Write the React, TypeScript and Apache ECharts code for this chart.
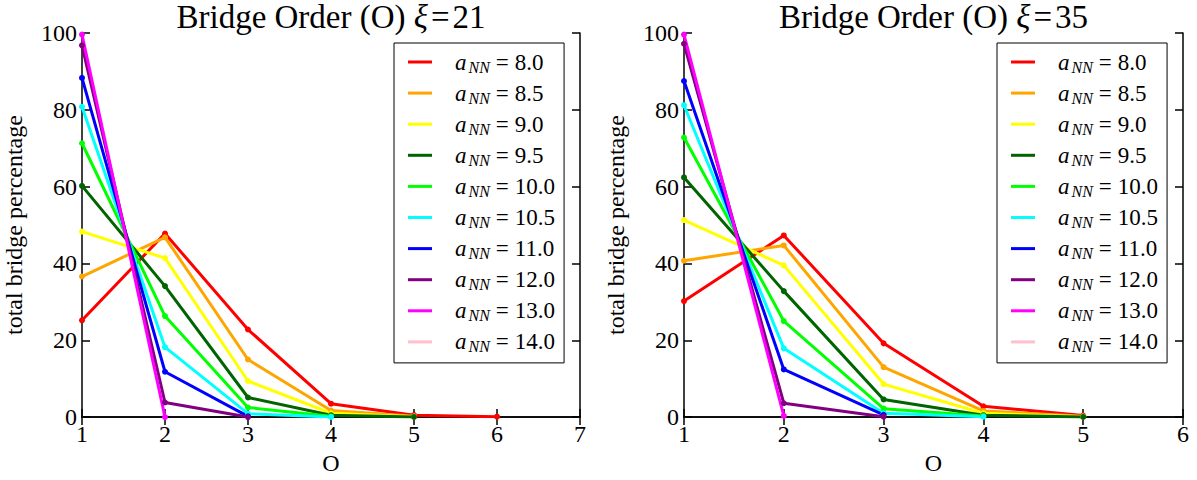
import React, { useEffect, useRef } from "react";
import * as echarts from "echarts";

// Legend labels (a_NN values) and colours
const aNN = ["8.0", "8.5", "9.0", "9.5", "10.0", "10.5", "11.0", "12.0", "13.0", "14.0"];
const colors = ["#ff0000", "#ffa500", "#ffff00", "#006400", "#00ff00", "#00ffff", "#0000ff", "#800080", "#ff00ff", "#ffc0cb"];

// Bridge order O = 1, 2, 3, ... ; values = total bridge percentage
// xi = 21
const xi21_8_0 = [25.2, 47.8, 22.8, 3.5, 0.5, 0.1];
const xi21_8_5 = [36.6, 46.8, 15.0, 1.7, 0.2];
const xi21_9_0 = [48.3, 41.4, 9.4, 1.0, 0.1];
const xi21_9_5 = [60.2, 34.1, 5.1, 0.5, 0.05];
const xi21_10_0 = [71.3, 26.3, 2.5, 0.2];
const xi21_10_5 = [80.8, 18.2, 0.9, 0.05];
const xi21_11_0 = [88.3, 11.8, 0.2];
const xi21_12_0 = [96.8, 3.8, 0.0];
const xi21_13_0 = [99.6, 0.0];
const xi21_14_0: number[] = [];

// xi = 35
const xi35_8_0 = [30.2, 47.3, 19.2, 2.8, 0.4];
const xi35_8_5 = [40.7, 44.7, 13.0, 1.6, 0.2];
const xi35_9_0 = [51.3, 39.5, 8.6, 1.0, 0.1];
const xi35_9_5 = [62.4, 32.8, 4.6, 0.5, 0.05];
const xi35_10_0 = [72.8, 25.0, 2.2, 0.3];
const xi35_10_5 = [81.2, 17.9, 1.0, 0.1];
const xi35_11_0 = [87.5, 12.4, 0.6];
const xi35_12_0 = [97.2, 3.6, 0.1];
const xi35_13_0 = [99.6, 0.3];
const xi35_14_0: number[] = [];

const series21 = [xi21_8_0, xi21_8_5, xi21_9_0, xi21_9_5, xi21_10_0, xi21_10_5, xi21_11_0, xi21_12_0, xi21_13_0, xi21_14_0];
const series35 = [xi35_8_0, xi35_8_5, xi35_9_0, xi35_9_5, xi35_10_0, xi35_10_5, xi35_11_0, xi35_12_0, xi35_13_0, xi35_14_0];

const titles = ["21", "35"];
const xMax = [7, 6];

const FONT = "Liberation Serif";

export default function App() {
  const ref = useRef<HTMLDivElement>(null);
  useEffect(() => {
    if (!ref.current) return;
    const chart = echarts.init(ref.current, null, { renderer: "svg" });
    const grids = [
      { left: 82, top: 33, width: 498, height: 386 },
      { left: 684, top: 33, width: 499, height: 386 },
    ];
    const legendLeft = [394, 997];
    const axisLine = { show: true, lineStyle: { color: "#000", width: 1.5 } };
    const tick = { show: true, inside: true, length: 8, lineStyle: { color: "#000", width: 1.5 } };
    const xAxis: any[] = [];
    const yAxis: any[] = [];
    const series: any[] = [];
    const title: any[] = [];
    const legend: any[] = [];
    [series21, series35].forEach((data, c) => {
      xAxis.push({
        gridIndex: c, type: "value", min: 1, max: xMax[c], interval: 1, position: "bottom",
        axisLine, axisTick: tick, splitLine: { show: false },
        axisLabel: { fontFamily: FONT, fontSize: 24, color: "#000", margin: 5 },
        name: "O", nameLocation: "middle", nameGap: 31,
        nameTextStyle: { fontFamily: FONT, fontSize: 24, color: "#000" },
      });
      xAxis.push({
        gridIndex: c, type: "value", min: 1, max: xMax[c], interval: 1, position: "top",
        axisLine, axisTick: tick, splitLine: { show: false }, axisLabel: { show: false },
      });
      yAxis.push({
        gridIndex: c, type: "value", min: 0, max: 100, interval: 20, position: "left",
        axisLine, axisTick: tick, splitLine: { show: false },
        axisLabel: { fontFamily: FONT, fontSize: 24, color: "#000", margin: 5 },
        name: "total bridge percentage", nameLocation: "middle", nameGap: 56, nameRotate: 90,
        nameTextStyle: { fontFamily: FONT, fontSize: 24, color: "#000" },
      });
      yAxis.push({
        gridIndex: c, type: "value", min: 0, max: 100, interval: 20, position: "right",
        axisLine, axisTick: tick, splitLine: { show: false }, axisLabel: { show: false },
      });
      title.push({
        text: `Bridge Order (O) {i|ξ}{e|=}${titles[c]}`,
        left: grids[c].left + grids[c].width / 2,
        textAlign: "center",
        top: 0,
        padding: 0,
        textStyle: {
          fontFamily: FONT, fontSize: 33, fontWeight: "normal", color: "#000",
          rich: {
            i: { fontFamily: FONT, fontSize: 33, fontStyle: "italic", color: "#000" },
            e: { fontFamily: FONT, fontSize: 33, color: "#000", padding: [0, 3, 0, 3] },
          },
        },
      });
      legend.push({
        orient: "vertical",
        left: legendLeft[c],
        top: 43,
        padding: [6, 9, 8, 14],
        borderColor: "#000",
        borderWidth: 1,
        backgroundColor: "#fff",
        icon: "rect",
        itemWidth: 24,
        itemHeight: 3,
        itemGap: 5.1,
        data: aNN,
        selectedMode: false,
        formatter: (name: string) => `{a|a}{s|NN}{e|=}{t|${name}}`,
        textStyle: {
          color: "#000",
          rich: {
            a: { fontFamily: FONT, fontStyle: "italic", fontSize: 23, lineHeight: 28, padding: [0, 2, 0, 18], color: "#000" },
            s: { fontFamily: FONT, fontStyle: "italic", fontSize: 16, lineHeight: 28, padding: [10, 3, 0, 0], color: "#000" },
            e: { fontFamily: FONT, fontSize: 23, lineHeight: 28, padding: [0, 6, 0, 3], color: "#000" },
            t: { fontFamily: FONT, fontSize: 23, lineHeight: 28, color: "#000" },
          },
        },
      });
      data.forEach((vals, k) => {
        series.push({
          name: aNN[k],
          type: "line",
          xAxisIndex: 2 * c,
          yAxisIndex: 2 * c,
          data: vals.map((v, i) => [i + 1, v]),
          color: colors[k],
          lineStyle: { width: 3, color: colors[k] },
          itemStyle: { color: colors[k] },
          symbol: "circle",
          symbolSize: 6,
          showSymbol: true,
        });
      });
    });
    chart.setOption({
      animation: false,
      backgroundColor: "#fff",
      grid: grids,
      xAxis,
      yAxis,
      title,
      legend,
      series,
    });
    return () => chart.dispose();
  }, []);
  return (
    <div
      ref={ref}
      style={{ position: "fixed", left: 0, top: 0, width: 1197, height: 480, background: "#fff" }}
    />
  );
}
